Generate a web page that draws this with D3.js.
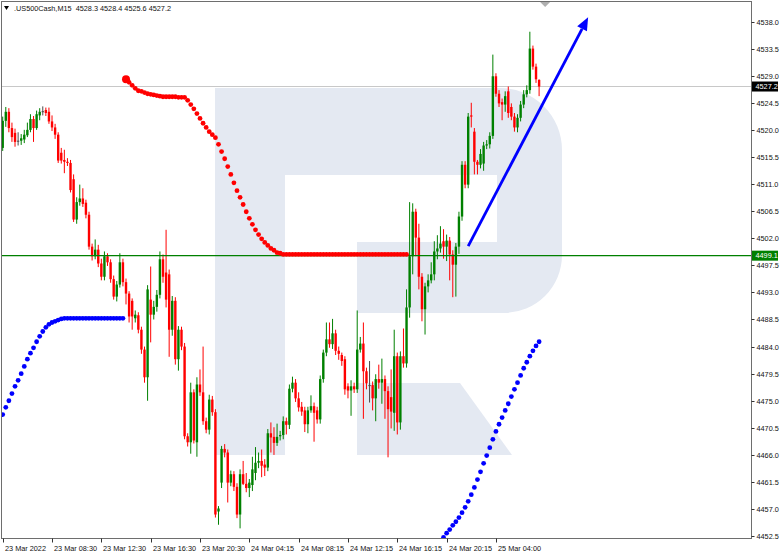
<!DOCTYPE html>
<html><head><meta charset="utf-8">
<script src="https://cdn.jsdelivr.net/npm/d3@7"></script>
<style>html,body{margin:0;padding:0;background:#fff;}svg{display:block;}</style>
</head><body>
<script>
const symbol = ".US500Cash,M15";
const open = [4517.0,4521.5,4523.0,4520.3,4519.5,4518.2,4518.2,4518.4,4519.1,4520.0,4521.8,4520.3,4522.4,4523.1,4523.3,4523.0,4521.4,4520.4,4519.2,4516.2,4515.0,4514.7,4514.5,4511.8,4505.1,4508.0,4508.6,4507.9,4505.9,4500.6,4499.0,4500.1,4497.8,4495.6,4499.0,4498.0,4495.2,4492.3,4494.3,4498.0,4494.7,4492.8,4491.6,4488.7,4489.2,4486.8,4483.5,4478.9,4491.8,4489.3,4490.6,4492.6,4498.5,4496.3,4496.0,4486.8,4491.6,4481.9,4486.8,4484.0,4469.1,4468.1,4476.4,4468.1,4477.7,4476.4,4471.6,4470.2,4475.2,4473.1,4456.6,4461.4,4467.0,4466.4,4461.4,4462.8,4460.7,4456.1,4462.8,4461.2,4460.5,4461.0,4463.0,4464.7,4465.0,4464.4,4463.9,4469.6,4469.0,4468.0,4469.1,4469.3,4471.6,4471.0,4477.0,4478.0,4475.4,4474.0,4473.4,4471.1,4473.4,4474.1,4473.4,4471.9,4478.6,4483.0,4485.2,4484.4,4486.2,4483.3,4482.6,4481.9,4477.4,4476.7,4477.4,4476.9,4483.5,4484.5,4479.9,4477.6,4477.6,4475.4,4478.6,4478.0,4478.6,4476.6,4475.6,4473.0,4482.4,4471.4,4482.4,4481.2,4490.5,4499.0,4506.4,4502.1,4495.6,4490.2,4494.0,4495.0,4496.0,4499.8,4500.3,4501.5,4500.6,4501.6,4499.3,4497.6,4500.6,4505.6,4514.2,4510.9,4522.4,4519.7,4514.7,4514.2,4514.4,4517.4,4517.6,4519.0,4528.9,4526.0,4524.6,4524.2,4526.4,4523.8,4522.2,4520.4,4522.0,4524.2,4525.9,4526.6,4533.5,4530.5,4528.3];
const high = [4522.2,4523.8,4523.6,4521.2,4520.2,4519.6,4519.3,4520.0,4521.2,4522.6,4522.3,4523.2,4523.6,4523.9,4523.7,4523.7,4522.4,4521.0,4519.6,4517.0,4516.7,4515.3,4515.0,4512.6,4508.8,4510.9,4510.3,4508.4,4506.4,4501.1,4501.8,4500.9,4498.6,4499.8,4499.5,4498.5,4495.8,4494.9,4499.5,4498.6,4495.3,4493.2,4492.0,4490.0,4489.7,4487.3,4484.0,4494.2,4497.3,4491.6,4493.4,4499.8,4499.3,4503.4,4496.8,4492.4,4492.2,4487.4,4487.3,4484.6,4469.6,4478.0,4476.9,4478.9,4480.2,4484.0,4472.2,4476.0,4475.8,4473.6,4457.5,4467.5,4467.8,4466.9,4463.4,4463.3,4461.3,4463.6,4465.0,4463.0,4462.0,4465.7,4467.3,4466.4,4466.9,4465.3,4470.3,4471.4,4470.6,4471.2,4470.0,4472.4,4472.2,4477.7,4479.0,4478.6,4476.4,4474.8,4474.0,4474.0,4475.9,4474.7,4474.0,4479.2,4483.5,4488.0,4488.0,4488.6,4486.8,4484.0,4483.0,4482.4,4477.9,4478.4,4478.0,4490.0,4485.6,4488.0,4480.5,4481.6,4478.2,4479.4,4481.0,4482.0,4479.2,4477.4,4480.2,4486.8,4483.0,4483.2,4487.0,4493.5,4508.0,4507.8,4506.9,4504.4,4496.2,4494.6,4496.0,4498.0,4501.5,4502.5,4504.0,4503.5,4502.6,4502.2,4500.0,4501.2,4506.4,4514.8,4514.8,4522.8,4524.5,4520.3,4515.0,4516.8,4518.0,4518.3,4519.6,4532.5,4529.4,4526.6,4525.2,4526.4,4527.2,4524.4,4522.8,4522.6,4524.8,4526.6,4527.4,4536.3,4534.0,4531.0,4528.4];
const low = [4516.5,4520.5,4519.6,4518.0,4517.2,4517.4,4517.5,4517.8,4518.8,4519.6,4518.0,4520.0,4521.6,4522.4,4522.3,4521.0,4519.8,4518.5,4514.5,4514.4,4512.8,4514.0,4509.6,4504.7,4504.4,4507.4,4507.2,4505.3,4500.1,4498.3,4498.5,4497.2,4495.0,4495.0,4497.4,4494.6,4491.8,4491.5,4493.8,4494.0,4491.0,4488.0,4486.8,4488.0,4486.2,4482.8,4478.0,4475.0,4484.7,4488.5,4489.8,4492.0,4494.6,4490.5,4482.3,4485.8,4481.0,4480.0,4483.4,4468.6,4467.4,4466.2,4467.9,4465.7,4475.8,4471.0,4469.6,4469.4,4472.5,4455.6,4454.4,4460.5,4465.6,4458.1,4460.8,4460.0,4455.5,4453.8,4461.0,4459.8,4459.0,4460.0,4461.8,4463.8,4462.3,4462.5,4463.3,4466.4,4466.0,4467.5,4468.4,4468.6,4469.4,4470.3,4476.4,4474.8,4473.2,4472.5,4469.8,4469.6,4473.0,4468.2,4471.2,4471.2,4478.0,4482.4,4483.8,4483.6,4482.6,4481.8,4480.8,4476.0,4475.4,4472.5,4476.3,4476.3,4483.0,4472.0,4476.9,4474.7,4473.4,4471.6,4477.0,4474.5,4472.0,4465.6,4470.4,4470.0,4469.4,4470.2,4480.5,4480.5,4488.8,4496.0,4499.0,4493.5,4488.2,4486.0,4493.0,4494.5,4495.0,4498.5,4499.6,4498.6,4498.2,4495.0,4492.2,4492.3,4499.4,4504.9,4510.3,4510.3,4520.4,4512.6,4512.6,4513.6,4513.2,4516.8,4516.9,4518.5,4525.5,4523.8,4521.6,4523.0,4522.0,4521.6,4519.7,4519.6,4521.4,4523.6,4525.4,4526.0,4530.0,4527.8,4525.6];
const close = [4521.5,4523.0,4520.3,4518.8,4518.0,4518.2,4518.6,4519.2,4520.0,4521.8,4520.3,4522.6,4523.0,4523.1,4522.8,4521.4,4520.4,4519.2,4514.9,4514.9,4514.7,4514.5,4510.0,4505.1,4508.0,4508.6,4507.7,4505.9,4500.6,4499.0,4500.1,4497.8,4495.6,4499.0,4498.0,4495.2,4492.3,4494.3,4498.0,4494.7,4492.8,4489.0,4489.0,4489.3,4486.8,4483.5,4478.9,4493.5,4489.3,4490.6,4492.6,4498.5,4495.6,4491.8,4486.8,4491.6,4481.9,4486.8,4484.0,4469.1,4468.1,4476.4,4468.4,4477.7,4476.4,4471.6,4470.2,4475.2,4473.1,4456.1,4457.1,4467.0,4466.4,4461.4,4462.8,4460.7,4456.1,4462.8,4461.2,4460.5,4461.4,4463.6,4464.7,4465.0,4464.2,4463.9,4469.6,4468.9,4468.0,4469.0,4469.3,4471.6,4471.0,4477.0,4478.0,4475.4,4473.9,4473.2,4471.1,4473.4,4474.1,4473.0,4471.9,4478.6,4483.0,4485.2,4484.4,4486.2,4483.3,4482.8,4481.6,4476.9,4476.7,4477.4,4476.9,4483.5,4484.5,4479.9,4477.9,4477.6,4475.4,4478.6,4478.0,4478.6,4476.6,4473.6,4473.2,4482.4,4471.4,4482.4,4481.2,4490.5,4499.0,4506.4,4502.1,4495.6,4490.2,4494.0,4495.0,4496.0,4499.8,4500.3,4501.1,4500.6,4501.6,4499.3,4497.6,4500.6,4505.6,4514.2,4510.9,4522.2,4522.2,4514.7,4514.2,4516.0,4517.4,4517.6,4519.0,4528.9,4526.0,4524.4,4524.2,4525.6,4522.8,4522.2,4520.4,4522.0,4524.2,4525.9,4526.6,4533.5,4530.5,4528.4,4527.2];

// Parabolic SAR segments (start bar index + values)
const sarBelow1Start = 0;
const sarBelow1 = [4472.7,4473.9,4475.0,4476.2,4477.4,4478.4,4479.5,4480.7,4481.9,4482.9,4483.8,4484.8,4485.7,4486.5,4487.2,4487.7,4488.0,4488.2,4488.4,4488.6,4488.7,4488.7,4488.7,4488.7,4488.7,4488.7,4488.7,4488.7,4488.7,4488.7,4488.7,4488.7,4488.7,4488.7,4488.7,4488.7,4488.7,4488.7,4488.7,4488.7];
const sarAboveStart = 40;
const sarAbove = [4528.4,4527.9,4527.4,4526.9,4526.5,4526.4,4526.2,4526.0,4525.9,4525.8,4525.7,4525.6,4525.5,4525.5,4525.5,4525.5,4525.5,4525.4,4525.4,4525.4,4524.9,4524.2,4523.5,4522.7,4521.9,4521.1,4520.4,4519.7,4519.2,4518.7,4517.6,4516.4,4515.2,4513.9,4512.6,4511.2,4509.9,4508.8,4507.6,4506.4,4505.3,4504.3,4503.4,4502.6,4501.9,4501.3,4500.8,4500.3,4500.0,4499.6,4499.5,4499.3,4499.3,4499.3,4499.3,4499.3,4499.3,4499.3,4499.3,4499.3,4499.3,4499.3,4499.3,4499.3,4499.3,4499.3,4499.3,4499.3,4499.3,4499.3,4499.3,4499.3,4499.3,4499.3,4499.3,4499.3,4499.3,4499.3,4499.3,4499.3,4499.3,4499.3,4499.3,4499.3,4499.3,4499.3,4499.3,4499.3,4499.3,4499.3,4499.3,4499.3];
const sarBelow2Start = 142;
const sarBelow2 = [4451.6,4452.3,4453.0,4453.6,4454.3,4454.9,4455.6,4456.4,4457.3,4458.3,4459.4,4460.6,4461.9,4463.2,4464.6,4465.9,4467.2,4468.6,4469.9,4471.1,4472.2,4473.4,4474.5,4475.7,4476.9,4478.0,4479.2,4480.4,4481.4,4482.4,4483.3,4484.1,4484.8];

const levelPrice = 4499.1;
const bidPrice = 4527.2;
const arrowIndex = [151.0, 189.9];
const arrowPrice = [4500.7, 4538.7];

const priceTicks = [4538.0,4533.5,4529.0,4524.5,4520.0,4515.5,4511.0,4506.5,4502.0,4497.5,4493.0,4488.5,4484.0,4479.5,4475.0,4470.5,4466.0,4461.5,4457.0,4452.5];
const timeTickIndex = [0,16,32,48,64,80,96,112,128,144,160];
const timeTickLabels = ["23 Mar 2022","23 Mar 08:30","23 Mar 12:30","23 Mar 16:30","23 Mar 20:30","24 Mar 04:15","24 Mar 08:15","24 Mar 12:15","24 Mar 16:15","24 Mar 20:15","25 Mar 04:00"];

const W = 782, H = 556;
const L = 1.5, R = 751.5, T = 1.5, B = 538.5;
const FONT = "'Liberation Sans', Arial, sans-serif";
const FS = 7.3;
const n = close.length;

const x = d3.scaleLinear().domain([0, n - 1]).range([2.7, 539.1]);
const y = d3.scaleLinear().domain([4452.5, 4538.0]).range([536.2, 21.5]);

const svg = d3.select("body").append("svg").attr("width", W).attr("height", H);
svg.append("rect").attr("width", W).attr("height", H).attr("fill", "#fff");

svg.append("clipPath").attr("id", "plot").append("rect")
  .attr("x", L).attr("y", T).attr("width", R - L).attr("height", B - T);
const g = svg.append("g").attr("clip-path", "url(#plot)");

// watermark logo
const wm = g.append("g").attr("fill", "#e4e9f2");
wm.append("rect").attr("x", 215).attr("y", 88).attr("width", 70).attr("height", 367);
wm.append("path").attr("d", "M285,88 H500 A62,62 0 0 1 562,150 V255 A58,58 0 0 1 504,313 H357 V242 H497 V175 H285 Z");
wm.append("path").attr("d", "M357,383 H460 L512,455 H357 Z");

// bid line
g.append("line").attr("x1", L).attr("x2", R).attr("y1", y(bidPrice)).attr("y2", y(bidPrice))
  .attr("stroke", "#c8c8c8").attr("stroke-width", 1);

// candles
const idx = d3.range(n);
const colorOf = i => close[i] > open[i] ? "#008000" : (close[i] < open[i] ? "#ff0000" : "#4a4a4a");
const cg = g.append("g");
cg.selectAll("line.wick").data(idx).join("line")
  .attr("x1", i => x(i)).attr("x2", i => x(i))
  .attr("y1", i => y(high[i])).attr("y2", i => y(low[i]))
  .attr("stroke", colorOf).attr("stroke-width", 1);
cg.selectAll("rect.body").data(idx).join("rect")
  .attr("x", i => x(i) - 1.2).attr("width", 2.4)
  .attr("y", i => y(Math.max(open[i], close[i])))
  .attr("height", i => Math.max(1, Math.abs(y(open[i]) - y(close[i]))))
  .attr("fill", colorOf);

// level line
g.append("line").attr("x1", L).attr("x2", R).attr("y1", y(levelPrice)).attr("y2", y(levelPrice))
  .attr("stroke", "#008000").attr("stroke-width", 1.4);

// SAR dots
function dots(start, vals, color, bigFirst) {
  g.append("g").selectAll("circle").data(vals).join("circle")
    .attr("cx", (v, k) => x(start + k)).attr("cy", v => y(v))
    .attr("r", (v, k) => (bigFirst && k === 0) ? 4 : 2.4)
    .attr("fill", color);
}
dots(sarBelow1Start, sarBelow1, "#0000ff", false);
dots(sarAboveStart, sarAbove, "#ff0000", true);
dots(sarBelow2Start, sarBelow2, "#0000ff", false);

// arrow
const ax1 = x(arrowIndex[0]), ay1 = y(arrowPrice[0]), ax2 = x(arrowIndex[1]), ay2 = y(arrowPrice[1]);
const ang = Math.atan2(ay2 - ay1, ax2 - ax1);
const hl = 13, hw = 5.5;
const bx = ax2 - hl * Math.cos(ang), by = ay2 - hl * Math.sin(ang);
g.append("line").attr("x1", ax1).attr("y1", ay1).attr("x2", bx).attr("y2", by)
  .attr("stroke", "#0000ff").attr("stroke-width", 2.8);
g.append("path").attr("d", d3.line()([
  [ax2, ay2],
  [bx + hw * Math.sin(ang), by - hw * Math.cos(ang)],
  [bx - hw * Math.sin(ang), by + hw * Math.cos(ang)]
]) + "Z").attr("fill", "#0000ff");

// shift marker
const sx = x(n - 1) + 6;
svg.append("path").attr("d", `M${sx - 5},2 L${sx + 5},2 L${sx},7 Z`).attr("fill", "#b0b0b0");

// frame
svg.append("rect").attr("x", L).attr("y", T).attr("width", R - L).attr("height", B - T)
  .attr("fill", "none").attr("stroke", "#6e6e6e").attr("stroke-width", 1);

// right axis
const ra = svg.append("g");
priceTicks.forEach(p => {
  const yy = Math.round(y(p)) + 0.5;
  ra.append("line").attr("x1", R).attr("x2", R + 3).attr("y1", yy).attr("y2", yy).attr("stroke", "#333");
  ra.append("text").attr("x", R + 5).attr("y", yy + 2.6).attr("font-family", FONT).attr("font-size", FS)
    .attr("fill", "#111").text(p.toFixed(1));
});
function priceBox(p, bg) {
  const yy = y(p);
  ra.append("rect").attr("x", R + 0.5).attr("y", yy - 5).attr("width", 26).attr("height", 10).attr("fill", bg);
  ra.append("text").attr("x", R + 4).attr("y", yy + 2.6).attr("font-family", FONT).attr("font-size", FS)
    .attr("fill", "#fff").text(p.toFixed(1));
}
priceBox(bidPrice, "#000");
priceBox(levelPrice, "#008000");

// bottom axis
const ba = svg.append("g");
timeTickIndex.forEach((ti, k) => {
  const xx = Math.round(x(ti)) + 0.5;
  ba.append("line").attr("x1", xx).attr("x2", xx).attr("y1", B).attr("y2", B + 4).attr("stroke", "#333");
  ba.append("text").attr("x", xx + 1.5).attr("y", 550.5).attr("font-family", FONT).attr("font-size", FS)
    .attr("fill", "#111").text(timeTickLabels[k]);
});

// header
svg.append("path").attr("d", "M4,6 L9,6 L6.5,10 Z").attr("fill", "#000");
svg.append("text").attr("x", 14).attr("y", 11).attr("font-family", FONT).attr("font-size", FS).attr("fill", "#111")
  .attr("xml:space", "preserve")
  .text(`${symbol}  ${open[n-1].toFixed(1)} ${high[n-1].toFixed(1)} ${low[n-1].toFixed(1)} ${close[n-1].toFixed(1)}`);
</script>
</body></html>
